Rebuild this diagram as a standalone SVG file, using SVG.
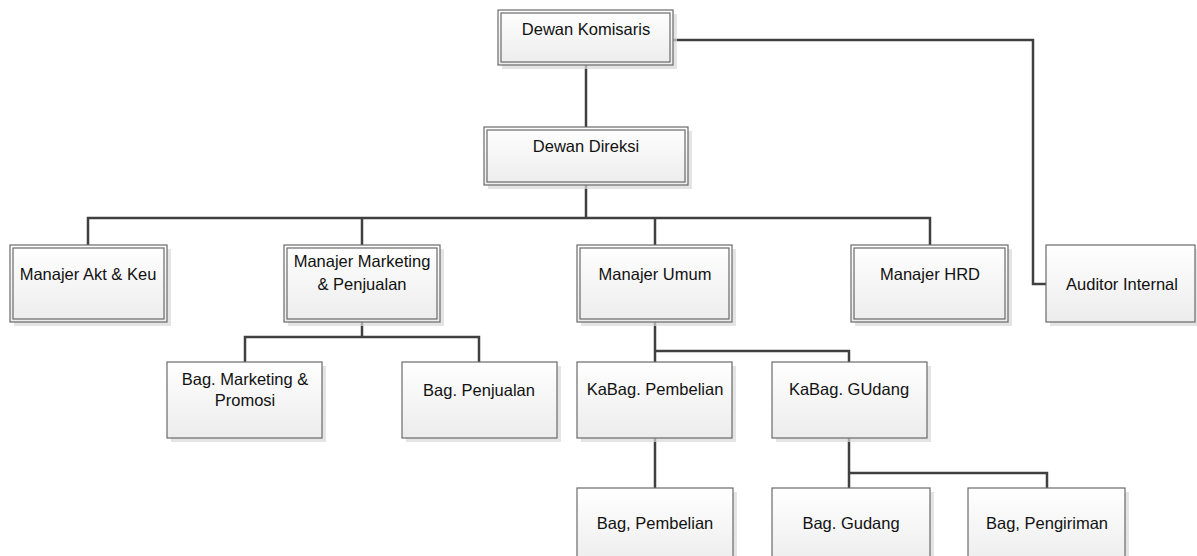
<svg xmlns="http://www.w3.org/2000/svg" width="1197" height="556" viewBox="0 0 1197 556">
<defs>
<linearGradient id="g" x1="0" y1="0" x2="0" y2="1">
<stop offset="0" stop-color="#ffffff"/>
<stop offset="1" stop-color="#ececec"/>
</linearGradient>
</defs>
<style>
.sh{fill:#d9d9d9;opacity:0.7}
.box{fill:url(#g);stroke:#6a6a6a;stroke-width:1.2}
.in{fill:none;stroke:#6a6a6a;stroke-width:1.2}
.t{font-family:"Liberation Sans",Arial,sans-serif;font-size:16.5px;fill:#111;text-anchor:middle}
.c{fill:none;stroke:#404040;stroke-width:2.5}
</style>
<rect width="1197" height="556" fill="#ffffff"/>
<g id="connectors">
<path class="c" d="M586 65 V127"/>
<path class="c" d="M673 40 H1033 V284 H1046"/>
<path class="c" d="M586 185 V218 M88 245 V218 H930 V245 M362 218 V245 M655 218 V245"/>
<path class="c" d="M362 322 V337 M245 362 V337 H479 V362"/>
<path class="c" d="M655 322 V488 M655 351 H849 V362"/>
<path class="c" d="M849 438 V488 M849 473 H1047 V488"/>
</g>
<g id="n-komisaris">
<rect class="sh" x="502" y="14" width="175" height="55"/>
<rect class="box" x="498" y="10" width="175" height="55"/>
<rect class="in" x="501" y="13" width="169" height="49"/>
<text class="t" x="586" y="35">Dewan Komisaris</text>
</g>
<g id="n-direksi">
<rect class="sh" x="488" y="131" width="204" height="58"/>
<rect class="box" x="484" y="127" width="204" height="58"/>
<rect class="in" x="487" y="130" width="198" height="52"/>
<text class="t" x="586" y="152">Dewan Direksi</text>
</g>
<g id="n-akt">
<rect class="sh" x="14" y="249" width="157" height="77"/>
<rect class="box" x="10" y="245" width="157" height="77"/>
<rect class="in" x="13" y="248" width="151" height="71"/>
<text class="t" x="88" y="280">Manajer Akt &amp; Keu</text>
</g>
<g id="n-marketing">
<rect class="sh" x="288" y="249" width="156" height="77"/>
<rect class="box" x="284" y="245" width="156" height="77"/>
<rect class="in" x="287" y="248" width="150" height="71"/>
<text class="t" x="362" y="267">Manajer Marketing</text>
<text class="t" x="362" y="290">&amp; Penjualan</text>
</g>
<g id="n-umum">
<rect class="sh" x="581" y="249" width="155" height="77"/>
<rect class="box" x="577" y="245" width="155" height="77"/>
<rect class="in" x="580" y="248" width="149" height="71"/>
<text class="t" x="655" y="280">Manajer Umum</text>
</g>
<g id="n-hrd">
<rect class="sh" x="855" y="249" width="157" height="77"/>
<rect class="box" x="851" y="245" width="157" height="77"/>
<rect class="in" x="854" y="248" width="151" height="71"/>
<text class="t" x="930" y="280">Manajer HRD</text>
</g>
<g id="n-auditor">
<rect class="sh" x="1050" y="249" width="149" height="77"/>
<rect class="box" x="1046" y="245" width="149" height="77"/>
<text class="t" x="1122" y="290">Auditor Internal</text>
</g>
<g id="n-bagmarketing">
<rect class="sh" x="171" y="366" width="155" height="76"/>
<rect class="box" x="167" y="362" width="155" height="76"/>
<text class="t" x="245" y="385">Bag. Marketing &amp;</text>
<text class="t" x="245" y="406">Promosi</text>
</g>
<g id="n-bagpenjualan">
<rect class="sh" x="406" y="366" width="155" height="76"/>
<rect class="box" x="402" y="362" width="155" height="76"/>
<text class="t" x="479" y="396">Bag. Penjualan</text>
</g>
<g id="n-kabagpembelian">
<rect class="sh" x="581" y="366" width="155" height="76"/>
<rect class="box" x="577" y="362" width="155" height="76"/>
<text class="t" x="655" y="395">KaBag. Pembelian</text>
</g>
<g id="n-kabaggudang">
<rect class="sh" x="776" y="366" width="155" height="76"/>
<rect class="box" x="772" y="362" width="155" height="76"/>
<text class="t" x="849" y="395">KaBag. GUdang</text>
</g>
<g id="n-bagpembelian">
<rect class="sh" x="581" y="492" width="156" height="80"/>
<rect class="box" x="577" y="488" width="156" height="80"/>
<text class="t" x="655" y="529">Bag, Pembelian</text>
</g>
<g id="n-baggudang">
<rect class="sh" x="776" y="492" width="158" height="80"/>
<rect class="box" x="772" y="488" width="158" height="80"/>
<text class="t" x="851" y="529">Bag. Gudang</text>
</g>
<g id="n-bagpengiriman">
<rect class="sh" x="972" y="492" width="157" height="80"/>
<rect class="box" x="968" y="488" width="157" height="80"/>
<text class="t" x="1047" y="529">Bag, Pengiriman</text>
</g>
</svg>
